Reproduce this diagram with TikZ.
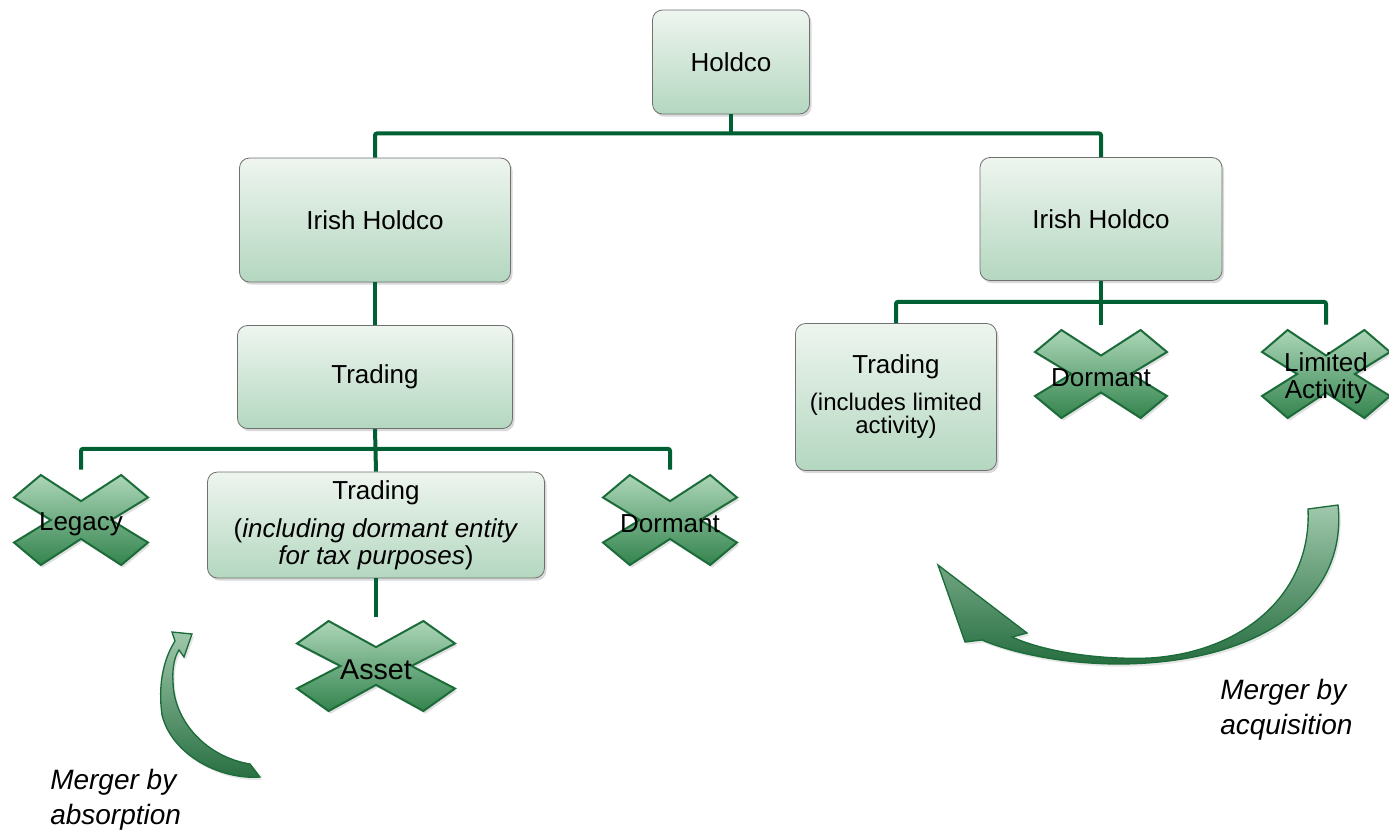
\documentclass[tikz,border=0pt]{standalone}
\usepackage{fontspec}
\setmainfont{Liberation Sans}
\usetikzlibrary{calc,shadows,backgrounds}

\definecolor{busgreen}{RGB}{0,96,52}
\definecolor{boxtop}{RGB}{238,245,239}
\definecolor{boxbot}{RGB}{180,215,192}
\definecolor{boxline}{RGB}{112,112,112}
\definecolor{xtop}{RGB}{172,214,184}
\definecolor{xbot}{RGB}{52,132,78}
\definecolor{xline}{RGB}{28,108,58}
\definecolor{arrtop}{RGB}{160,200,172}
\definecolor{arrbot}{RGB}{38,110,64}

\tikzset{
  entity/.style={draw=boxline, line width=0.6pt, rounded corners=7.5pt,
    top color=boxtop, bottom color=boxbot,
    drop shadow={opacity=0.3, shadow xshift=1.5pt, shadow yshift=-2pt},
    font=\fontsize{19.5}{20}\selectfont, align=center, inner sep=2pt},
  struck/.style={inner sep=0pt, align=center, minimum width=100pt,
    font=\fontsize{19.5}{20}\selectfont},
  bus/.style={draw=busgreen, line width=3pt, rounded corners=1.5pt},
  crossfill/.style={draw=xline, line width=1.5pt, top color=xtop, bottom color=xbot,
    drop shadow={opacity=0.25, shadow xshift=1.5pt, shadow yshift=-2pt}},
  mergearrow/.style={draw=xline, line width=1pt, top color=arrtop, bottom color=arrbot,
    drop shadow={opacity=0.2, shadow xshift=1.5pt, shadow yshift=-2pt}},
  note/.style={anchor=west, align=left, inner sep=0pt,
    font=\fontsize{21}{26}\selectfont\itshape}
}

% cross drawn round a node (a little above its text): node, half width, half height
\newcommand{\xshape}[3]{%
  \begin{scope}[shift={($(#1)+(0,-4)$)}, xscale=#2, yscale=#3]
    \shade[crossfill] (-1,-.5) -- (-.6,-1) -- (0,-.42) -- (.6,-1) -- (1,-.5) -- (.45,0)
      -- (1,.5) -- (.6,1) -- (0,.42) -- (-.6,1) -- (-1,.5) -- (-.45,0) -- cycle;
  \end{scope}}

\newcommand{\subfont}{\fontsize{18}{17.5}\selectfont}

\begin{document}
\begin{tikzpicture}[x=0.75pt,y=0.75pt,yscale=-1,xscale=1]
  \useasboundingbox (0,0) rectangle (1389,832);

  % Boxes
  \node[entity, minimum width=117.75pt, minimum height=78pt] (holdco) at (731,62) {Holdco};
  \node[entity, minimum width=203.25pt, minimum height=93pt] (ih1) at (375,220) {Irish Holdco};
  \node[entity, minimum width=181.5pt, minimum height=92.25pt] (ih2) at (1101,219) {Irish Holdco};
  \node[entity, minimum width=206.25pt, minimum height=77.25pt] (trading1) at (375,377) {Trading};
  \node[entity, minimum width=252.75pt, minimum height=79.5pt] (trading2) at (376,525)
    {Trading\\[9pt](\textit{including dormant entity}\\\textit{for tax purposes})};
  \node[entity, minimum width=150.75pt, minimum height=110.25pt, font=\subfont] (trading3) at (896,397)
    {{\fontsize{19.5}{20}\selectfont Trading}\\[10pt](includes limited\\activity)};

  % Struck-out entities
  \node[struck, minimum height=81pt] (legacy) at (81,524) {Legacy};
  \node[struck, minimum height=81pt] (dormant1) at (670,524) {Dormant};
  \node[struck, minimum height=79.5pt, font=\fontsize{21.5}{24}\selectfont] (asset) at (376,670) {Asset};
  \node[struck, minimum height=79.5pt] (dormant2) at (1101,378) {Dormant};
  \node[struck, minimum height=79.5pt] (limited) at (1326,378) {Limited\\Activity};

  \begin{scope}[on background layer]
    \xshape{legacy}{67}{45}
    \xshape{dormant1}{67}{45}
    \xshape{asset}{79}{45}
    \xshape{dormant2}{66}{44}
    \xshape{limited}{64}{44}
  \end{scope}

  % Connectors
  \draw[bus] (holdco.south) -- ++(0,19);
  \draw[bus] (ih1.north) |- ($(holdco.south)+(0,19)$) -| (ih2.north);
  \draw[bus] (ih1.south) -- (trading1.north);
  \draw[bus] (trading1.south) -- (trading2.north);
  \draw[bus] (legacy.north) |- ($(trading1.south)+(0,20)$) -| (dormant1.north);
  \draw[bus] (trading2.south) -- (asset.north);
  \draw[bus] (ih2.south) -- (dormant2.north);
  \draw[bus] (trading3.north) |- ($(ih2.south)+(0,21)$) -| (limited.north);

  % Merger arrows
  \shade[mergearrow] (250,764) .. controls (207,757) and (174,722) .. (173,682)
    .. controls (172,667) and (175,656) .. (179,650) -- (184,657) -- (192,634) -- (172,632)
    -- (175,641) .. controls (163,660) and (158,685) .. (162,715)
    .. controls (172,755) and (220,780) .. (260,777) -- cycle;
  \shade[mergearrow] (1308,509) -- (1338,505) .. controls (1348,600) and (1260,663) .. (1120,664)
    .. controls (1060,664) and (1010,652) .. (982,640) -- (965,642) -- (938,565) -- (1027,633)
    -- (1012,637) .. controls (1045,652) and (1100,660) .. (1150,658)
    .. controls (1245,652) and (1312,592) .. (1308,509) -- cycle;

  % Text Node
  \node[note] (absorb) at (50,800) {Merger by\\absorption};
  % Text Node
  \node[note] (acquire) at (1220,710) {Merger by\\acquisition};
\end{tikzpicture}
\end{document}
